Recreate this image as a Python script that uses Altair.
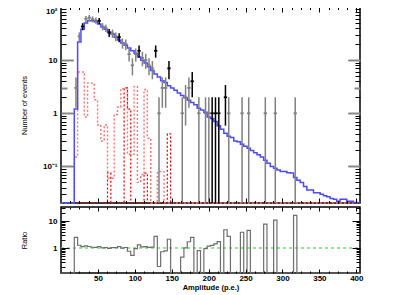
import altair as alt
import numpy as np
import pandas as pd

# ---------------- data ----------------
bin_width = 4.5          # p.e. per bin
x_max = 405.0            # axis end
first_bin = 4            # first filled bin starts at 18 p.e.

# blue MC histogram, one value per bin from first_bin on
mc_values = [1.2, 22, 38, 50, 55, 55, 53, 48, 42, 38, 34, 31, 27, 24, 21, 19, 17, 15,
             13.5, 11.5, 10, 8.8, 7.5, 6.4, 5.5, 4.8, 4.1, 3.8, 3.3, 3.0, 2.7, 2.4, 2.15,
             1.95, 1.75, 1.6, 1.45, 1.25, 1.15, 1.05, 0.85, 0.8, 0.7, 0.58, 0.5, 0.42, 0.37,
             0.35, 0.3, 0.29, 0.26, 0.24, 0.22, 0.2, 0.18, 0.165, 0.15, 0.13, 0.115, 0.1,
             0.092, 0.086, 0.08, 0.08, 0.076, 0.075, 0.062, 0.055, 0.05, 0.042, 0.036, 0.036,
             0.032, 0.032, 0.03, 0.028, 0.027, 0.025, 0.024, 0.022, 0.024, 0.024, 0.022,
             0.022, 0.021, 0.021]

# observed events per bin from first_bin on
data_counts = [3, 28, 43, 60, 63, 59, 56, 55, 43, 40, 33, 32, 28, 27, 21, 20, 13, 8,
               13, 15, 11, 10, 8, 7, 15, 1, 3, 3, 7, 0, 0, 0, 1, 2, 3, 4, 0, 1, 0, 1,
               1, 1, 1, 1, 0, 2, 1, 0, 0, 0, 1, 0, 1, 0, 0, 0, 0, 1, 0, 0, 1, 0, 0, 0,
               0, 0, 1]

# red dashed component histograms, from first_bin on
red_a_values = [0.15, 6.0, 6.0, 0.85, 3.7, 3.7, 1.8, 0.6, 0.3, 0.6, 0.06, 0.06, 0.95,
                1.3, 2.9, 2.9, 0.17, 0.17, 3.2, 0.05, 0.07, 2.8, 0.34, 0, 0, 0.08, 0.08]
red_b_values = [0, 0, 0, 0, 0, 0, 0, 0, 0, 0, 0.076, 0, 0, 0, 0, 3.0, 1.2, 0, 0, 0, 0,
                0.075, 0, 0, 0, 0, 0, 0, 0.41]

# bins whose data marker is drawn black instead of grey
dark_bins = [6, 11, 14, 17, 23, 28, 32, 39, 45, 46, 47, 49]

x_major_ticks = [50, 100, 150, 200, 250, 300, 350, 400]
x_minor_step = 12.5
y_top_labels = [0.1, 1, 10, 100]
ratio_labels = [1, 10]
ratio_ref = [1.0]
gray_top_ticks = [0.1, 1, 3, 10]
y_top_domain = [0.0205, 100]
ratio_domain = [0.12, 33]
FLOOR = 1e-4

# ---------------- tables ----------------
n_bins = int(round(x_max / bin_width))
edges = np.round(np.arange(n_bins + 1) * bin_width, 4)


def full(vals):
    arr = np.zeros(n_bins)
    arr[first_bin:first_bin + len(vals)] = vals
    return arr


def step_df(arr):
    vals = np.append(arr, arr[-1])
    vals = np.where(vals > 0, vals, FLOOR)
    return pd.DataFrame({"x": edges, "y": vals})


mc = full(mc_values)
cnt = full(data_counts)
red_a = full(red_a_values)
red_b = full(red_b_values)

rows = []
for k in range(n_bins):
    c = cnt[k]
    if c > 0:
        err = np.sqrt(c)
        lo = c - err if c - err > 0 else FLOOR
        rows.append(dict(xc=(edges[k] + edges[k + 1]) / 2, x0=edges[k], x1=edges[k + 1],
                         n=c, lo=lo, hi=c + err, dark=k in dark_bins))
pts = pd.DataFrame(rows)
pts_grey = pts[~pts["dark"]]
pts_dark = pts[pts["dark"]]

ratio = np.where((mc > 0) & (cnt > 0), cnt / np.where(mc > 0, mc, 1.0), 0.0)

df_mc = step_df(mc)
df_ra = step_df(red_a)
df_rb = step_df(red_b)
df_ratio = step_df(ratio)
df_ref = pd.DataFrame({"x0": [0.0], "x1": [x_max], "r": ratio_ref})

# ---------------- scales / axes ----------------
W, H1, H2 = 299, 196, 66
FONT = "Liberation Sans"

xs = alt.Scale(domain=[0, x_max], nice=False, zero=False)
yts = alt.Scale(type="log", domain=y_top_domain, nice=False, clamp=True)
yrs = alt.Scale(type="log", domain=ratio_domain, nice=False, clamp=True)

x_ticks_all = sorted(set(x_major_ticks) | {float(v) for v in np.arange(x_minor_step, x_max, x_minor_step)})


def log_ticks(lo, hi):
    out = []
    for e in range(-3, 3):
        for m in range(1, 10):
            v = m * 10.0 ** e
            if lo <= v * 1.0000001 and v <= hi * 1.0000001:
                out.append(float(f"{v:.6g}"))
    return out


y_top_ticks_all = log_ticks(*y_top_domain)
ratio_ticks_all = log_ticks(*ratio_domain)

X_MAJOR = "datum.value % 50 == 0"
LOG_MAJOR = "abs(log(datum.value)/LN10 - round(log(datum.value)/LN10)) < 0.001"


def tick_axis(orient, offset, values, test, big, small, color="black", width=1):
    return alt.Axis(orient=orient, offset=offset, values=values, labels=False, domain=False,
                    grid=False, title=None, tickColor=color, tickWidth=width, zindex=1,
                    tickSize={"condition": {"test": test, "value": big}, "value": small})


top_label_axis = alt.Axis(
    orient="left", values=y_top_labels, ticks=False, domain=False, grid=False,
    labelExpr="datum.value == 100 ? '10\u00b2' : datum.value == 10 ? '10' : datum.value == 1 ? '1' : '10\u207b\u00b9'",
    labelOffset={"condition": {"test": "datum.value == 100", "value": 4}, "value": 0},
    labelPadding=4, labelOverlap=False, title="Number of events", titleX=-37, titleY=H1 / 2,
    titleAngle=270, titleAlign="center", titleBaseline="middle", titleFontWeight="normal",
    titleFontSize=7.5)

# ---------------- top panel ----------------
line_blue = alt.Chart(df_mc).mark_line(interpolate="step-after", color="#4a4aff", strokeWidth=1.5).encode(
    x=alt.X("x:Q", scale=xs, axis=tick_axis("top", -H1, x_ticks_all, X_MAJOR, 5, 2.5)),
    y=alt.Y("y:Q", scale=yts, axis=top_label_axis))

line_ra = alt.Chart(df_ra).mark_line(interpolate="step-after", color="#ff7070", strokeWidth=1.4,
                                     strokeDash=[2, 2]).encode(
    x=alt.X("x:Q", scale=xs, axis=tick_axis("bottom", -H1, x_ticks_all, X_MAJOR, 5, 2.5)),
    y=alt.Y("y:Q", scale=yts, axis=tick_axis("right", -W, y_top_ticks_all, LOG_MAJOR, 12, 5)))

line_rb = alt.Chart(df_rb).mark_line(interpolate="step-after", color="#e00000", strokeWidth=1.2,
                                     strokeDash=[2, 2]).encode(
    x=alt.X("x:Q", scale=xs, axis=None),
    y=alt.Y("y:Q", scale=yts, axis=tick_axis("left", -W, y_top_ticks_all, LOG_MAJOR, 12, 5)))

err_grey = alt.Chart(pts_grey).mark_rule(color="#808080", strokeWidth=1.5).encode(
    x=alt.X("xc:Q", scale=xs, axis=None),
    y=alt.Y("lo:Q", scale=yts, axis=tick_axis("right", -W, gray_top_ticks, "datum.value == 3", 6, 12,
                                                color="#888888", width=2)),
    y2="hi:Q")

bar_grey = alt.Chart(pts_grey).mark_rule(color="#808080", strokeWidth=1.8).encode(
    x=alt.X("x0:Q", scale=xs, axis=None), x2="x1:Q",
    y=alt.Y("n:Q", scale=yts, axis=tick_axis("left", -W, gray_top_ticks, "datum.value == 3", 6, 12,
                                               color="#888888", width=2)))

err_dark = alt.Chart(pts_dark).mark_rule(color="black", strokeWidth=1.5).encode(
    x=alt.X("xc:Q", scale=xs, axis=None),
    y=alt.Y("lo:Q", scale=yts, axis=None), y2="hi:Q")

bar_dark = alt.Chart(pts_dark).mark_rule(color="black", strokeWidth=1.8).encode(
    x=alt.X("x0:Q", scale=xs, axis=None), x2="x1:Q",
    y=alt.Y("n:Q", scale=yts, axis=None))

top = alt.layer(line_rb, line_ra, line_blue, err_grey, bar_grey, err_dark, bar_dark).resolve_axis(
    x="independent", y="independent").properties(width=W, height=H1)

# ---------------- ratio panel ----------------
bottom_x_axis = alt.Axis(orient="bottom", values=x_major_ticks, ticks=False, domain=False, grid=False,
                         labelPadding=1, labelFlush=False, labelOverlap=False,
                         title="Amplitude (p.e.)", titleX=W / 2, titleY=14, titleBaseline="middle",
                         titleAlign="center", titleFontWeight="bold", titleFontSize=7.5)
ratio_label_axis = alt.Axis(orient="left", values=ratio_labels, ticks=False, domain=False, grid=False,
                            labelExpr="datum.value == 10 ? '10' : '1'", labelPadding=4, labelOverlap=False,
                            title="Ratio", titleX=-37, titleY=H2 / 2, titleAngle=270, titleAlign="center",
                            titleBaseline="middle", titleFontWeight="normal", titleFontSize=7.5)

ratio_line = alt.Chart(df_ratio).mark_line(interpolate="step-after", color="#6e6e6e", strokeWidth=1.2).encode(
    x=alt.X("x:Q", scale=xs, axis=bottom_x_axis),
    y=alt.Y("y:Q", scale=yrs, axis=ratio_label_axis))

ref_line = alt.Chart(df_ref).mark_rule(color="#55ee55", strokeWidth=1.5, strokeDash=[3, 3]).encode(
    x=alt.X("x0:Q", scale=xs, axis=tick_axis("top", -H2, x_ticks_all, X_MAJOR, 4, 2)), x2="x1:Q",
    y=alt.Y("r:Q", scale=yrs, axis=tick_axis("right", -W, ratio_ticks_all, LOG_MAJOR, 8, 4)))

ratio_ticks_layer = alt.Chart(df_ratio).mark_line(strokeOpacity=0).encode(
    x=alt.X("x:Q", scale=xs, axis=tick_axis("bottom", -H2, x_ticks_all, X_MAJOR, 4, 2)),
    y=alt.Y("y:Q", scale=yrs, axis=tick_axis("left", -W, ratio_ticks_all, LOG_MAJOR, 8, 4)))

bottom = alt.layer(ref_line, ratio_line, ratio_ticks_layer).resolve_axis(
    x="independent", y="independent").properties(width=W, height=H2)

chart = alt.vconcat(top, bottom, spacing=-10).properties(
    padding={"left": 11, "top": -3, "right": 2, "bottom": 0},
    background="white",
).configure(font=FONT).configure_view(stroke="black", strokeWidth=1.5).configure_axis(
    labelFont=FONT, labelFontSize=8, labelFontWeight="bold", labelColor="black",
    titleFont=FONT, titleColor="black")

chart.save("out.html", embed_options={"renderer": "svg", "actions": False})
